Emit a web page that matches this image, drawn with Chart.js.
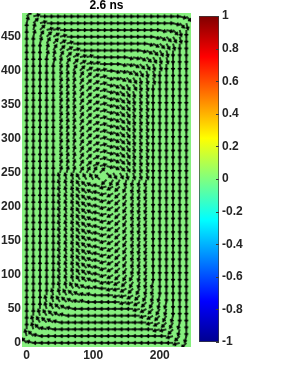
<!DOCTYPE html>
<html>
<head>
<meta charset="utf-8">
<script src="https://cdn.jsdelivr.net/npm/chart.js@4"></script>
<style>
  html, body { margin: 0; padding: 0; background: #fff; overflow: hidden; }
  #wrap { position: relative; width: 296px; height: 367px; }
  #field { position: absolute; left: 0; top: 0; }
  #cbar { position: absolute; left: 196px; top: 0; }
</style>
</head>
<body>
<div id="wrap">
  <canvas id="field" width="196" height="367"></canvas>
  <canvas id="cbar" width="100" height="367"></canvas>
</div>
<script>
// grid of the quiver plot (nm)
const xVals = [0, 10, 20, 30, 40, 50, 60, 70, 80, 90, 100, 110, 120, 130, 140, 150, 160, 170, 180, 190, 200, 210, 220, 230, 240];
const yVals = [480, 470, 460, 450, 440, 430, 420, 410, 400, 390, 380, 370, 360, 350, 340, 330, 320, 310, 300, 290, 280, 270, 260, 250,
               240, 230, 220, 210, 200, 190, 180, 170, 160, 150, 140, 130, 120, 110, 100, 90, 80, 70, 60, 50, 40, 30, 20, 10, 0];

// in-plane direction of m per cell, one row per y (top first)
// letter a..x = 0..345 deg in 15 deg steps (a = +x, g = +y, m = -x, s = -y)
const dirRows = [
  'dbaaa aaaaa aaaaa aaaaa aaaxv',
  'fdbaa aaaaa aaaaa aaaaa aaxvt',
  'gfdbb aaaaa aaaaa aaaaa xxvts',
  'gfedc baaaa aaaaa aaaax wvuts',
  'ggfed cbaaa aaaaa aaaxw vutss',
  'gggfe dcbaa aaaaa aaxwv utsss',
  'gggff edcbb aaaaa xxwvu ttsss',
  'ggggf fedcb baaax xwvut tssss',
  'ggggg ffedc bbaxx wvutt sssss',
  'ggggg fffed cbxxw vuttt sssss',
  'ggggg fffed cbxwv uutts sssss',
  'ggggg fffed cbxwv uttts sssss',
  'ggggg fffed cbxwv uttts sssss',
  'ggggg fffed cbxwv uttts sssss',
  'ggggg fffed cbxwv uttts sssss',
  'ggggg fffed cbxwv uttts sssss',
  'ggggg fffed cbxwv uttts sssss',
  'ggggg fffed cbxwv uttts sssss',
  'ggggg fffed cbxwv uttts sssss',
  'ggggg fffed cbxwv uttts sssss',
  'ggggg fffed cbxwv uttts sssss',
  'ggggg fffed cbxwv uttts sssss',
  'ggggg fffed cbxwv uttts sssss',
  'ggggg fffee edvuu tttts sssss',
  'ggggg hhhii ijpqq rrrrs sssss',
  'ggggg hhhij klnop qrrrs sssss',
  'ggggg hhhij klnop qrrrs sssss',
  'ggggg hhhij klnop qrrrs sssss',
  'ggggg hhhij klnop qrrrs sssss',
  'ggggg hhhij klnop qrrrs sssss',
  'ggggg hhhij klnop qrrrs sssss',
  'ggggg hhhij klnop qrrrs sssss',
  'ggggg hhhij klnop qrrrs sssss',
  'ggggg hhhij klnop qrrrs sssss',
  'ggggg hhhij klnop qrrrs sssss',
  'ggggg hhhij klnop qrrrs sssss',
  'ggggg hhhij klnop qrrrs sssss',
  'ggggg hhhij klnop qrrrs sssss',
  'ggggg hhhij klnop qqrrs sssss',
  'ggggg hhhij klnno pqrrr sssss',
  'ggggg hhijk llmnn opqrr sssss',
  'ggggh hijkl lmmmn nopqr rssss',
  'ggghh ijkll mmmmm nnopq rrsss',
  'ggghi jklmm mmmmm mmnop qrsss',
  'gghij klmmm mmmmm mmmno pqrss',
  'ghijk lmmmm mmmmm mmmmn opqrs',
  'ghjll mmmmm mmmmm mmmmm nnprs',
  'hjlmm mmmmm mmmmm mmmmm mmnpr',
  'jlmmm mmmmm mmmmm mmmmm mmmnp'
];

const xTicks = [0, 100, 200];
const yTicks = [0, 50, 100, 150, 200, 250, 300, 350, 400, 450];
const cbTicks = [-1, -0.8, -0.6, -0.4, -0.2, 0, 0.2, 0.4, 0.6, 0.8, 1];
const titleText = '2.6 ns';

const fieldColor = '#86f07e';   // mz ~ 0 on the jet map
const textColor = '#262626';
const tickFont = { family: 'Liberation Sans, Arial, sans-serif', size: 12, weight: 'bold' };

// build the points + angles from the table
const points = [];
const angles = [];
dirRows.forEach((row, r) => {
  const cells = row.replace(/ /g, '');
  for (let i = 0; i < cells.length; i++) {
    points.push({ x: xVals[i], y: yVals[r] });
    angles.push((cells.charCodeAt(i) - 97) * 15);
  }
});

// arrow sprite, tail at the centre, pointing +x
function makeArrow(len, head, half, lw) {
  const size = Math.ceil(2 * (len + lw + 2));
  const cv = document.createElement('canvas');
  cv.width = size;
  cv.height = size;
  const c = cv.getContext('2d');
  const cx = size / 2, cy = size / 2;
  c.strokeStyle = '#000';
  c.lineWidth = lw;
  c.lineCap = 'butt';
  c.lineJoin = 'miter';
  c.beginPath();
  c.moveTo(cx, cy);
  c.lineTo(cx + len, cy);
  c.moveTo(cx + len - head, cy - half);
  c.lineTo(cx + len, cy);
  c.lineTo(cx + len - head, cy + half);
  c.stroke();
  return cv;
}
const arrow = makeArrow(6.5, 2.6, 1.5, 1.5);

const bgPlugin = {
  id: 'fieldBg',
  beforeDatasetsDraw(chart) {
    const { ctx, chartArea: a } = chart;
    ctx.save();
    ctx.fillStyle = fieldColor;
    ctx.fillRect(a.left, a.top, a.width, a.height);
    ctx.restore();
  }
};

new Chart(document.getElementById('field'), {
  type: 'scatter',
  data: {
    datasets: [{
      data: points,
      pointStyle: arrow,
      radius: 3,
      rotation: (ctx) => -angles[ctx.dataIndex]
    }]
  },
  options: {
    responsive: false,
    animation: false,
    events: [],
    layout: { padding: { left: 0, right: 1, top: 0, bottom: 0 } },
    plugins: {
      legend: { display: false },
      tooltip: { enabled: false },
      title: {
        display: true,
        text: titleText,
        fullSize: false,
        color: '#000',
        font: { family: 'Liberation Sans, Arial, sans-serif', size: 12, weight: 'bold', lineHeight: 1 },
        padding: { top: 0, bottom: 1 }
      }
    },
    scales: {
      x: {
        type: 'linear',
        min: -7,
        max: 247,
        grid: { display: false, drawTicks: false },
        border: { display: false },
        afterBuildTicks: (s) => { s.ticks = xTicks.map(v => ({ value: v })); },
        afterFit: (s) => { s.height = 20; },
        ticks: { font: tickFont, color: textColor, padding: 1, maxRotation: 0, autoSkip: false }
      },
      y: {
        type: 'linear',
        min: -6,
        max: 485,
        grid: { display: false, drawTicks: false },
        border: { display: false },
        afterBuildTicks: (s) => { s.ticks = yTicks.map(v => ({ value: v })); },
        afterFit: (s) => { s.width = 22; },
        ticks: { font: tickFont, color: textColor, padding: 1, autoSkip: false }
      }
    }
  },
  plugins: [bgPlugin]
});

// colorbar (jet)
const jetStops = [[0, '#00008f'], [0.125, '#0000ff'], [0.375, '#00ffff'], [0.625, '#ffff00'], [0.875, '#ff0000'], [1, '#800000']];
function jetGradient(c) {
  const { ctx, chartArea } = c.chart;
  if (!chartArea) return '#80ff80';
  const g = ctx.createLinearGradient(0, chartArea.bottom, 0, chartArea.top);
  jetStops.forEach(([t, col]) => g.addColorStop(t, col));
  return g;
}

// little tick marks on the inner right edge of the bar
const cbTickMarks = {
  id: 'cbTickMarks',
  afterDatasetsDraw(chart) {
    const { ctx, chartArea: a, scales } = chart;
    ctx.save();
    ctx.strokeStyle = '#3a3a3a';
    ctx.lineWidth = 1;
    cbTicks.forEach(v => {
      const y = Math.round(scales.y.getPixelForValue(v)) + 0.5;
      ctx.beginPath();
      ctx.moveTo(a.right - 3, y);
      ctx.lineTo(a.right, y);
      ctx.stroke();
    });
    ctx.restore();
  }
};

new Chart(document.getElementById('cbar'), {
  type: 'bar',
  data: {
    labels: [''],
    datasets: [{
      data: [[cbTicks[0], cbTicks[cbTicks.length - 1]]],
      backgroundColor: jetGradient,
      borderColor: '#3a3a3a',
      borderWidth: 1,
      borderSkipped: false,
      barPercentage: 1,
      categoryPercentage: 1
    }]
  },
  options: {
    responsive: false,
    animation: false,
    events: [],
    layout: { padding: { left: 3, right: 0, top: 16, bottom: 25 } },
    plugins: { legend: { display: false }, tooltip: { enabled: false } },
    scales: {
      x: { display: false },
      y: {
        position: 'right',
        min: -1,
        max: 1,
        grid: { display: false, drawTicks: false },
        border: { display: false },
        afterBuildTicks: (s) => { s.ticks = cbTicks.map(v => ({ value: v })); },
        afterFit: (s) => { s.width = 77; },
        ticks: {
          font: tickFont,
          color: textColor,
          padding: 3,
          autoSkip: false,
          callback: (v) => String(Math.round(v * 10) / 10)
        }
      }
    }
  },
  plugins: [cbTickMarks]
});
</script>
</body>
</html>
